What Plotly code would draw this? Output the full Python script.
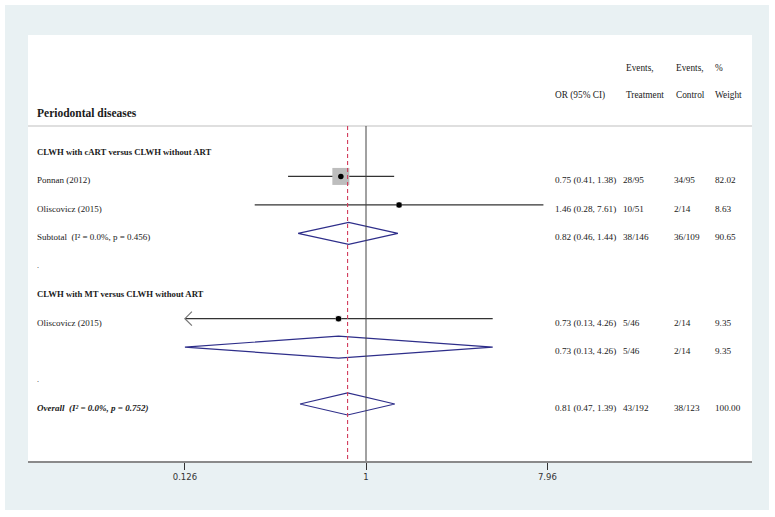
import math
import plotly.graph_objects as go

# ---------------- data ----------------
study_names = ["Ponnan (2012)", "Oliscovicz (2015)", "Oliscovicz (2015)"]
study_rows = [1, 2, 6]
study_or = [0.75, 1.46, 0.73]
study_lo = [0.41, 0.28, 0.125]
study_hi = [1.38, 7.61, 4.26]
study_weight = [82.02, 8.63, 9.35]
study_or_text = ["0.75 (0.41, 1.38)", "1.46 (0.28, 7.61)", "0.73 (0.13, 4.26)"]
study_events_t = ["28/95", "10/51", "5/46"]
study_events_c = ["34/95", "2/14", "2/14"]
study_weight_text = ["82.02", "8.63", "9.35"]

pooled_labels = ["Subtotal  (I\u00b2 = 0.0%, p = 0.456)", "",
                 "<b><i>Overall  (I\u00b2 = 0.0%, p = 0.752)</i></b>"]
pooled_rows = [3, 7, 9]
pooled_or = [0.82, 0.73, 0.81]
pooled_lo = [0.46, 0.125, 0.47]
pooled_hi = [1.44, 4.26, 1.39]
pooled_or_text = ["0.82 (0.46, 1.44)", "0.73 (0.13, 4.26)", "0.81 (0.47, 1.39)"]
pooled_events_t = ["38/146", "5/46", "43/192"]
pooled_events_c = ["36/109", "2/14", "38/123"]
pooled_weight_text = ["90.65", "9.35", "100.00"]

group_labels = ["CLWH with cART versus CLWH without ART",
                "CLWH with MT versus CLWH without ART"]
group_rows = [0, 5]
spacer_rows = [4, 8]

tick_vals = [0.126, 1, 7.96]
tick_text = ["0.126", "1", "7.96"]
overall_or = 0.81

title_text = "Periodontal diseases"

# ---------------- geometry (pixels) ----------------
W, H = 775, 517
X_L, X_R, Y_T, Y_B = 28, 752, 35, 461
X_ONE, PX_DEC = 366, 201.3
ROW0_Y, ROW_H = 148, 28.44
HEADER_Y = 126

x_range = [(X_L - X_ONE) / PX_DEC, (X_R - X_ONE) / PX_DEC]
y_bottom = (Y_B - ROW0_Y) / ROW_H
y_top = (Y_T - ROW0_Y) / ROW_H
header_row = (HEADER_Y - ROW0_Y) / ROW_H


def pxx(x):
    return (x - X_L) / (X_R - X_L)


def pxy(y):
    return (Y_B - y) / (Y_B - Y_T)


SERIF = "Liberation Serif"
TXT = "#1a1a1a"
fig = go.Figure()

x_min = tick_vals[0]
LINE_C = "#333333"

# study CI lines, boxes, points
for r, o, lo, hi, w in zip(study_rows, study_or, study_lo, study_hi, study_weight):
    left = max(lo, x_min)
    fig.add_trace(go.Scatter(x=[left, hi], y=[r, r], mode="lines",
                             line=dict(color=LINE_C, width=1.2), hoverinfo="skip"))
    if lo < x_min:
        fx = 10 ** (7 / PX_DEC)
        dy = 7 / ROW_H
        fig.add_trace(go.Scatter(x=[x_min * fx, x_min, x_min * fx], y=[r - dy, r, r + dy],
                                 mode="lines", line=dict(color="#777777", width=1.2),
                                 hoverinfo="skip"))
    size = 17 * math.sqrt(w / max(study_weight))
    fig.add_trace(go.Scatter(x=[o], y=[r], mode="markers",
                             marker=dict(symbol="square", size=size, color="#bdbdbd",
                                         line=dict(width=0)), hoverinfo="skip"))
    fig.add_trace(go.Scatter(x=[o], y=[r], mode="markers",
                             marker=dict(symbol="circle", size=5.5, color="black"),
                             hoverinfo="skip"))

# pooled diamonds
HD = 11 / ROW_H
for r, o, lo, hi in zip(pooled_rows, pooled_or, pooled_lo, pooled_hi):
    left = max(lo, x_min)
    fig.add_trace(go.Scatter(x=[left, o, hi, o, left], y=[r, r - HD, r, r + HD, r],
                             mode="lines", line=dict(color="#2e2e8a", width=1.2),
                             hoverinfo="skip"))

annotations = []


def txt(x, y, s, size=9, yref="y", yshift=-4, bold=False, family=SERIF):
    if bold:
        s = "<b>" + s + "</b>"
    annotations.append(dict(x=pxx(x), xref="paper", y=y, yref=yref, text=s,
                            showarrow=False, xanchor="left", yanchor="middle",
                            yshift=yshift, font=dict(family=family, size=size, color=TXT)))


NUM = 9.2
HDR = 9.3
# header
txt(35, pxy(113), title_text, size=11.5, yref="paper", yshift=0, bold=True)
txt(553, pxy(95), "OR (95% CI)", size=HDR, yref="paper", yshift=0)
txt(624, pxy(68), "Events,", size=HDR, yref="paper", yshift=0)
txt(624, pxy(95), "Treatment", size=HDR, yref="paper", yshift=0)
txt(674, pxy(68), "Events,", size=HDR, yref="paper", yshift=0)
txt(674, pxy(95), "Control", size=HDR, yref="paper", yshift=0)
txt(713, pxy(68), "%", size=HDR, yref="paper", yshift=0)
txt(713, pxy(95), "Weight", size=HDR, yref="paper", yshift=0)

for r, s in zip(group_rows, group_labels):
    txt(35, r, s, size=8.7, bold=True)
for r in spacer_rows:
    txt(35, r, ".", size=8)
for r, n, ot, et, ec, wt in zip(study_rows, study_names, study_or_text,
                                study_events_t, study_events_c, study_weight_text):
    txt(35, r, n)
    txt(553, r, ot, size=NUM)
    txt(621, r, et, size=NUM)
    txt(672, r, ec, size=NUM)
    txt(713, r, wt, size=NUM)
for r, n, ot, et, ec, wt in zip(pooled_rows, pooled_labels, pooled_or_text,
                                pooled_events_t, pooled_events_c, pooled_weight_text):
    if n:
        txt(35, r, n, size=9)
    txt(553, r, ot, size=NUM)
    txt(621, r, et, size=NUM)
    txt(672, r, ec, size=NUM)
    txt(713, r, wt, size=NUM)

shapes = [
    dict(type="rect", xref="paper", yref="paper", x0=pxx(5), x1=pxx(769),
         y0=pxy(510), y1=pxy(5), fillcolor="#e9f1f3", line=dict(width=0), layer="below"),
    dict(type="rect", xref="paper", yref="paper", x0=0, x1=1, y0=0, y1=1,
         fillcolor="white", line=dict(width=0), layer="below"),
    dict(type="line", xref="paper", yref="y", x0=0, x1=1, y0=header_row, y1=header_row,
         line=dict(color="#d4d4d4", width=1.5)),
    dict(type="line", xref="x", yref="y", x0=1, x1=1, y0=header_row, y1=y_bottom,
         line=dict(color="#444444", width=1)),
    dict(type="line", xref="x", yref="y", x0=overall_or, x1=overall_or,
         y0=header_row, y1=y_bottom, line=dict(color="#d23c5c", width=1.1, dash="4px,3px")),
]

fig.update_layout(
    width=W, height=H,
    margin=dict(l=X_L, r=W - X_R, t=Y_T, b=H - Y_B, pad=0),
    paper_bgcolor="white", plot_bgcolor="rgba(0,0,0,0)",
    showlegend=False,
    shapes=shapes, annotations=annotations,
    xaxis=dict(type="log", range=x_range, tickvals=tick_vals, ticktext=tick_text,
               ticks="outside", ticklen=7, tickcolor="#333333", tickwidth=1,
               showline=True, linecolor="#8a8a8a", linewidth=1.5,
               showgrid=False, zeroline=False,
               tickfont=dict(family="DejaVu Sans", size=8.5, color="#333333")),
    yaxis=dict(range=[y_bottom, y_top], visible=False, showgrid=False, zeroline=False),
)

fig.write_html("out.html", config={"displayModeBar": False},
               post_script="document.body.style.margin='0px';"
                           "document.body.style.overflow='hidden';")
